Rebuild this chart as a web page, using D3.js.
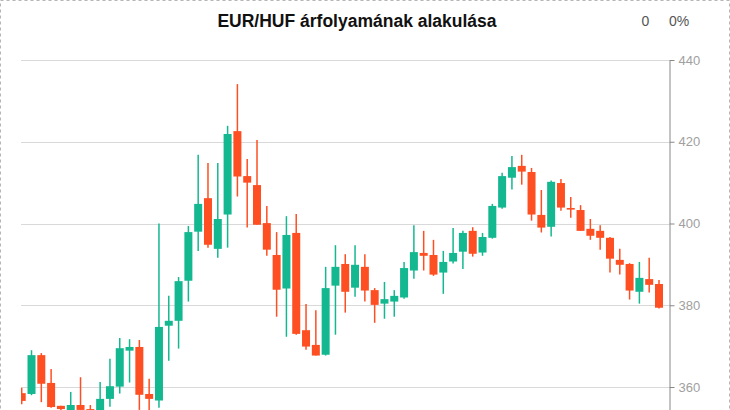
<!DOCTYPE html>
<html>
<head>
<meta charset="utf-8">
<script src="https://cdn.jsdelivr.net/npm/d3@7"></script>
<style>
  html, body { margin: 0; padding: 0; background: #fff; overflow: hidden; }
  svg { display: block; font-family: "Liberation Sans", Arial, sans-serif; }
</style>
</head>
<body>
<svg id="chart" width="730" height="410"></svg>
<script>
const title = "EUR/HUF árfolyamának alakulása";
const infoValue = "0";
const infoPercent = "0%";
const yTicks = [360, 380, 400, 420, 440];

const openV  = [358.5,358.3,367.8,361.0,355.4,354.2,355.6,354.6,353.8,357.1,360.1,368.9,369.8,358.3,356.7,375.0,376.2,386.0,398.0,406.2,393.8,402.2,422.6,411.6,409.4,400.1,392.3,384.1,397.7,373.9,370.3,367.9,384.8,390.1,384.3,389.4,383.7,380.4,380.9,381.9,388.5,392.8,392.3,388.0,390.7,393.1,398.2,392.9,396.5,403.9,411.2,414.1,412.6,402.1,399.2,409.9,403.8,403.3,398.7,398.2,396.5,391.1,390.1,383.3,386.4,385.2];
const highV  = [359.8,369.0,368.3,364.4,355.4,358.8,362.4,355.6,361.2,366.9,372.0,371.7,371.5,362.0,400.0,382.3,386.9,399.4,416.8,414.8,414.8,423.9,434.1,415.8,420.4,404.3,397.9,401.8,402.3,380.3,378.8,389.4,394.7,392.5,394.7,392.5,384.2,385.7,383.7,390.6,399.6,398.2,396.0,393.3,398.9,398.2,399.1,397.7,404.8,412.4,416.5,416.8,413.6,408.2,410.5,410.9,406.5,404.5,401.1,399.6,396.7,393.8,390.3,390.6,391.6,386.2];
const lowV   = [355.8,358.0,356.3,354.9,353.8,353.2,353.4,352.6,353.0,355.2,358.4,361.1,354.4,354.4,354.9,366.4,369.4,380.9,393.3,394.1,391.6,394.1,406.6,399.0,399.7,392.1,377.2,372.3,372.8,369.1,367.7,367.7,372.8,378.2,382.1,380.9,375.7,376.7,377.2,381.6,386.5,388.5,387.2,382.8,390.2,388.9,391.9,392.1,396.3,403.6,408.3,409.5,400.7,397.8,396.8,403.1,401.4,398.2,396.0,393.6,388.0,387.5,381.4,380.4,383.1,379.2];
const closeV = [356.6,367.8,360.8,355.1,354.6,355.6,354.4,353.6,357.1,360.2,369.5,369.8,358.1,357.1,374.7,376.2,385.9,397.9,404.8,394.8,401.1,421.9,411.5,410.0,399.7,393.6,383.8,397.2,373.0,369.9,367.7,384.2,389.4,383.3,389.9,383.6,380.1,381.5,382.3,389.1,393.0,392.1,387.5,390.6,392.8,397.7,392.6,396.7,404.3,411.6,413.8,412.7,402.2,399.0,410.2,403.9,403.4,398.2,397.0,396.5,391.4,389.9,383.6,386.7,385.0,379.4];

const upColor = "#14b890";
const downColor = "#fe4f22";

const candles = openV.map((o, i) => ({ i, o, h: highV[i], l: lowV[i], c: closeV[i] }));

const svg = d3.select("#chart");
const plotLeft = 21, plotRight = 669, plotTop = 60;

// dashed page border
svg.append("rect")
  .attr("x", 0.5).attr("y", 0.5).attr("width", 729).attr("height", 600)
  .attr("fill", "none").attr("stroke", "#b5b5b5").attr("stroke-dasharray", "3,3");

const x = d3.scalePoint().domain(candles.map(d => d.i)).range([21.7, 659]);
const y = d3.scaleLinear().domain([350, 440]).range([427.9, plotTop]);

// gridlines
svg.append("g").selectAll("line").data(yTicks).join("line")
  .attr("x1", plotLeft).attr("x2", plotRight)
  .attr("y1", d => Math.round(y(d)) + 0.5).attr("y2", d => Math.round(y(d)) + 0.5)
  .attr("stroke", "#d9d9d9").attr("stroke-width", 1);

svg.append("defs").append("clipPath").attr("id", "plotclip")
  .append("rect").attr("x", plotLeft).attr("y", 0).attr("width", plotRight - plotLeft).attr("height", 500);

const cg = svg.append("g").attr("clip-path", "url(#plotclip)");
const bw = 8;
const g = cg.selectAll("g.c").data(candles).join("g").attr("class", "c");
g.append("line")
  .attr("x1", d => x(d.i)).attr("x2", d => x(d.i))
  .attr("y1", d => y(d.h)).attr("y2", d => y(d.l))
  .attr("stroke", d => d.c >= d.o ? upColor : downColor)
  .attr("stroke-width", 1.5);
g.append("rect")
  .attr("x", d => x(d.i) - bw / 2)
  .attr("width", bw)
  .attr("y", d => y(Math.max(d.o, d.c)))
  .attr("height", d => Math.max(1, Math.abs(y(d.o) - y(d.c))))
  .attr("fill", d => d.c >= d.o ? upColor : downColor);

// right axis
const axis = svg.append("g")
  .attr("transform", `translate(${plotRight + 0.5},0)`)
  .call(d3.axisRight(y).tickValues(yTicks).tickSize(5).tickSizeOuter(0).tickPadding(4));
axis.select(".domain").attr("stroke", "#888");
axis.selectAll(".tick line").attr("stroke", "#888");
axis.selectAll(".tick text")
  .attr("fill", "#a0a0a0")
  .style("font-size", "13px")
  .style("font-family", "'Liberation Sans', Arial, sans-serif");

// title
svg.append("text")
  .attr("x", 357).attr("y", 27)
  .attr("text-anchor", "middle")
  .style("font-size", "17.5px").style("font-weight", "bold")
  .attr("fill", "#111")
  .text(title);

svg.append("text")
  .attr("x", 645.5).attr("y", 26).attr("text-anchor", "middle")
  .style("font-size", "14px").attr("fill", "#555").text(infoValue);
svg.append("text")
  .attr("x", 669).attr("y", 26)
  .style("font-size", "14px").attr("fill", "#555").text(infoPercent);
</script>
</body>
</html>
